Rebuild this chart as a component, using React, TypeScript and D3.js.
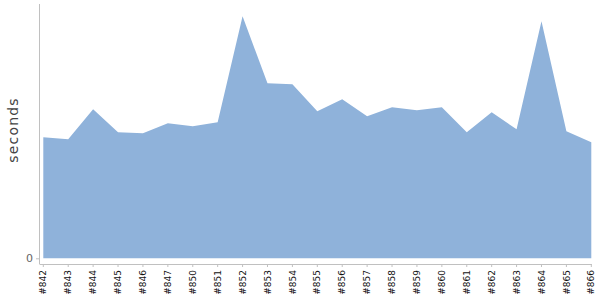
import React from "react";
import * as d3 from "d3";

const builds = ["#842","#843","#844","#845","#846","#847","#850","#851","#852","#853","#854","#855","#856","#857","#858","#859","#860","#861","#862","#863","#864","#865","#866"];
const seconds = [121,119,149,126,125,135,132,136,242,175,174,147,159,142,151,148,151,126,146,129,237,127,116];
const yTicks = [0];

export default function App() {
  const W = 600, H = 300;
  const x = d3.scalePoint<string>().domain(builds).range([43.3, 591.3]);
  const y = d3.scaleLinear().domain([0, 254]).range([258.3, 4.3]);
  const area = d3.area<number>()
    .x((_, i) => x(builds[i]) as number)
    .y0(y(0))
    .y1((d) => y(d));
  const axisColor = "#c0c0c0";
  return (
    <svg width={W} height={H} style={{ position: "absolute", left: 0, top: 0 }}
      fontFamily="DejaVu Sans, Verdana, sans-serif">
      <path d={area(seconds) || ""} fill="#8fb2da" />
      <line x1={39.5} x2={39.5} y1={4} y2={264} stroke={axisColor} strokeWidth={1} />
      <line x1={39.5} x2={591.8} y1={264.5} y2={264.5} stroke={axisColor} strokeWidth={1} />
      {yTicks.map((t) => (
        <g key={t}>
          <line x1={36} x2={39.5} y1={y(t) + 0.5} y2={y(t) + 0.5} stroke={axisColor} />
          <text x={33} y={y(t)} dy="0.35em" textAnchor="end" fontSize={11} fill="#666">{t}</text>
        </g>
      ))}
      {builds.map((b) => {
        const px = x(b) as number;
        return (
          <g key={b}>
            <line x1={px} x2={px} y1={264} y2={267} stroke={axisColor} />
            <text transform={`translate(${px},${270}) rotate(-90)`} dy="0.35em" textAnchor="end"
              fontSize={9} fill="#111">{b}</text>
          </g>
        );
      })}
      <text transform="translate(18,130) rotate(-90)" textAnchor="middle" fontSize={14}
        letterSpacing={1.2} fill="#444">seconds</text>
    </svg>
  );
}
